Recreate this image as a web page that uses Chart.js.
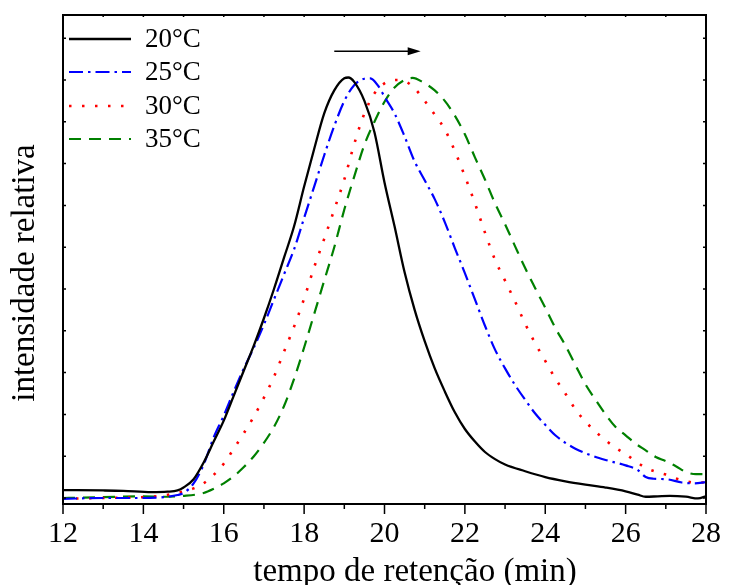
<!DOCTYPE html>
<html>
<head>
<meta charset="utf-8">
<script src="https://cdn.jsdelivr.net/npm/chart.js@4/dist/chart.umd.min.js"></script>
<style>
  html, body { margin: 0; padding: 0; background: #fff; }
  #wrap { width: 733px; height: 585px; position: relative; }
</style>
</head>
<body>
<div id="wrap"><canvas id="chart"></canvas></div>
<script>
// Retention-time axis ticks (minutes)
const xTicks = [12, 14, 16, 18, 20, 22, 24, 26, 28];

// Series labels
const seriesLabels = ['20°C', '25°C', '30°C', '35°C'];

// 20 °C
const time20 = [12.0, 13.0, 13.5, 14.2, 14.6, 14.85, 15.0, 15.25, 15.5, 15.75, 16.0, 16.25, 16.5, 16.75, 17.0, 17.25, 17.5, 17.75, 18.0, 18.25, 18.5, 18.75, 19.0, 19.1, 19.25, 19.5, 19.75, 20.0, 20.25, 20.5, 20.75, 21.0, 21.25, 21.5, 21.75, 22.0, 22.25, 22.5, 22.75, 23.0, 23.5, 24.0, 24.5, 25.0, 25.5, 26.0, 26.3, 26.5, 26.8, 27.1, 27.5, 27.8, 28.0];
const signal20 = [0.19, 0.18, 0.17, 0.14, 0.15, 0.18, 0.25, 0.45, 0.85, 1.35, 1.85, 2.45, 3.05, 3.65, 4.3, 5.0, 5.75, 6.5, 7.45, 8.35, 9.2, 9.75, 10.04, 10.06, 9.95, 9.5, 8.75, 7.55, 6.5, 5.4, 4.5, 3.75, 3.1, 2.55, 2.05, 1.65, 1.35, 1.1, 0.93, 0.8, 0.64, 0.5, 0.4, 0.32, 0.25, 0.16, 0.08, 0.03, 0.04, 0.05, 0.03, -0.01, 0.04];

// 25 °C
const time25 = [12.0, 13.0, 14.0, 14.5, 14.85, 15.0, 15.25, 15.5, 15.75, 16.0, 16.25, 16.5, 16.75, 17.0, 17.25, 17.5, 17.75, 18.0, 18.25, 18.5, 18.75, 19.0, 19.25, 19.5, 19.65, 19.85, 20.0, 20.25, 20.5, 20.75, 21.0, 21.25, 21.5, 21.75, 22.0, 22.25, 22.5, 22.75, 23.0, 23.25, 23.5, 23.75, 24.0, 24.25, 24.5, 24.75, 25.0, 25.5, 26.0, 26.3, 26.5, 26.7, 27.0, 27.4, 27.7, 28.0];
const signal25 = [-0.02, 0.0, 0.0, 0.02, 0.07, 0.12, 0.35, 0.8, 1.45, 1.97, 2.55, 3.1, 3.6, 4.15, 4.75, 5.35, 5.95, 6.7, 7.45, 8.2, 8.9, 9.5, 9.88, 10.03, 10.04, 9.85, 9.6, 9.2, 8.65, 8.05, 7.6, 7.15, 6.6, 5.98, 5.38, 4.75, 4.12, 3.55, 3.1, 2.7, 2.35, 2.02, 1.75, 1.5, 1.32, 1.18, 1.07, 0.91, 0.78, 0.67, 0.5, 0.46, 0.45, 0.37, 0.35, 0.38];

// 30 °C
const time30 = [12.0, 13.0, 14.0, 14.5, 15.0, 15.25, 15.5, 15.75, 16.0, 16.25, 16.5, 16.75, 17.0, 17.25, 17.5, 17.75, 18.0, 18.25, 18.5, 18.75, 19.0, 19.25, 19.5, 19.75, 20.0, 20.3, 20.55, 20.75, 21.0, 21.25, 21.5, 21.75, 22.0, 22.25, 22.5, 22.75, 23.0, 23.25, 23.5, 23.75, 24.0, 24.25, 24.5, 24.75, 25.0, 25.25, 25.5, 25.75, 26.0, 26.25, 26.5, 26.75, 27.0, 27.25, 27.5, 27.75, 28.0];
const signal30 = [-0.02, 0.0, 0.02, 0.06, 0.16, 0.23, 0.35, 0.55, 0.82, 1.18, 1.55, 1.95, 2.4, 2.9, 3.5, 4.1, 4.77, 5.52, 6.2, 6.9, 7.62, 8.48, 9.2, 9.68, 9.92, 10.0, 9.95, 9.8, 9.5, 9.17, 8.82, 8.3, 7.7, 7.05, 6.35, 5.7, 5.2, 4.7, 4.17, 3.7, 3.28, 2.86, 2.5, 2.12, 1.83, 1.59, 1.38, 1.2, 1.05, 0.88, 0.72, 0.63, 0.56, 0.47, 0.4, 0.36, 0.38];

// 35 °C
const time35 = [12.0, 13.0, 14.0, 14.5, 15.0, 15.5, 15.75, 16.0, 16.25, 16.5, 16.75, 17.0, 17.25, 17.5, 17.75, 18.0, 18.25, 18.5, 18.75, 19.0, 19.25, 19.5, 19.75, 20.0, 20.25, 20.5, 20.7, 20.95, 21.25, 21.5, 21.75, 22.0, 22.25, 22.5, 22.75, 23.0, 23.25, 23.5, 23.75, 24.0, 24.25, 24.5, 24.75, 25.0, 25.25, 25.5, 25.75, 26.0, 26.25, 26.5, 26.75, 27.0, 27.25, 27.5, 27.75, 28.0];
const signal35 = [0.0, 0.02, 0.04, 0.03, 0.05, 0.12, 0.22, 0.35, 0.52, 0.74, 1.0, 1.32, 1.7, 2.2, 2.85, 3.6, 4.4, 5.2, 6.0, 6.9, 7.7, 8.45, 9.0, 9.48, 9.82, 10.0, 10.05, 9.95, 9.75, 9.5, 9.15, 8.7, 8.15, 7.62, 7.05, 6.55, 6.02, 5.5, 5.02, 4.55, 4.07, 3.65, 3.18, 2.72, 2.35, 2.0, 1.7, 1.5, 1.3, 1.14, 0.98, 0.88, 0.76, 0.62, 0.57, 0.57];

const serif = "'Liberation Serif', 'Times New Roman', serif";

function points(xs, ys) {
  return xs.map((t, i) => ({ x: t, y: ys[i] }));
}

function series(label, xs, ys, color, dash, width) {
  return {
    label: label,
    data: points(xs, ys),
    borderColor: color,
    backgroundColor: color,
    borderWidth: width,
    borderDash: dash,
    borderCapStyle: 'butt',
    pointRadius: 0,
    pointHoverRadius: 0,
    fill: false,
    cubicInterpolationMode: 'monotone'
  };
}

// Frame, tick marks, axis titles, shift arrow and the in-plot legend
const decorations = {
  id: 'decorations',
  afterDraw(chart) {
    const { ctx, chartArea: a, scales: { x, y } } = chart;
    ctx.save();
    ctx.strokeStyle = '#000';
    ctx.lineWidth = 2;
    ctx.strokeRect(a.left, a.top, a.right - a.left, a.bottom - a.top);

    ctx.lineWidth = 1.5;
    ctx.beginPath();
    for (let v = x.min; v <= x.max; v++) {
      const px = x.getPixelForValue(v);
      const major = v % 2 === 0;
      ctx.moveTo(px, a.bottom);
      ctx.lineTo(px, a.bottom + (major ? 10 : 5));
      ctx.moveTo(px, a.top);
      ctx.lineTo(px, a.top + 2);
    }
    for (let v = 0; v <= Math.floor(y.max); v++) {
      const py = y.getPixelForValue(v);
      ctx.moveTo(a.left, py);
      ctx.lineTo(a.left + 3, py);
      ctx.moveTo(a.right, py);
      ctx.lineTo(a.right - 3, py);
    }
    ctx.stroke();

    // axis titles
    ctx.fillStyle = '#000';
    ctx.font = '33px ' + serif;
    ctx.textAlign = 'center';
    ctx.textBaseline = 'alphabetic';
    ctx.fillText('tempo de retenção (min)', a.left + 352, 581);
    ctx.save();
    ctx.translate(34, a.top + 258);
    ctx.rotate(-Math.PI / 2);
    ctx.fillText('intensidade relativa', 0, 0);
    ctx.restore();

    // arrow showing the peak shift with temperature
    const ax0 = x.getPixelForValue(18.75);
    const ax1 = x.getPixelForValue(20.9);
    const ay = y.getPixelForValue(10.69);
    ctx.lineWidth = 1.5;
    ctx.beginPath();
    ctx.moveTo(ax0, ay);
    ctx.lineTo(ax1 - 10, ay);
    ctx.stroke();
    ctx.beginPath();
    ctx.moveTo(ax1, ay);
    ctx.lineTo(ax1 - 13, ay - 4);
    ctx.lineTo(ax1 - 13, ay + 4);
    ctx.closePath();
    ctx.fill();

    // legend
    const rowY = [39, 72, 106, 139];
    ctx.font = '27px ' + serif;
    ctx.textBaseline = 'middle';
    ctx.textAlign = 'left';
    chart.data.datasets.forEach((ds, i) => {
      const ly = rowY[i];
      ctx.save();
      ctx.strokeStyle = ds.borderColor;
      ctx.lineWidth = ds.borderWidth;
      ctx.setLineDash(ds.borderDash || []);
      ctx.beginPath();
      ctx.moveTo(a.left + 6, ly);
      ctx.lineTo(a.left + 68, ly);
      ctx.stroke();
      ctx.restore();
      ctx.fillText(ds.label, a.left + 82, ly + 1);
    });
    ctx.restore();
  }
};

new Chart(document.getElementById('chart'), {
  type: 'line',
  data: {
    datasets: [
      series(seriesLabels[0], time20, signal20, '#000000', [], 2.3),
      series(seriesLabels[1], time25, signal25, '#0000ff', [14, 5, 2.5, 5], 2.2),
      series(seriesLabels[2], time30, signal30, '#ff0000', [2.5, 10.5], 2.6),
      series(seriesLabels[3], time35, signal35, '#008000', [12, 8], 2.2)
    ]
  },
  options: {
    responsive: true,
    maintainAspectRatio: false,
    animation: false,
    events: [],
    layout: { padding: { top: 15, right: 18, left: 0, bottom: 0 } },
    plugins: {
      legend: { display: false },
      tooltip: { enabled: false }
    },
    scales: {
      x: {
        type: 'linear',
        min: 12,
        max: 28,
        afterFit(scale) { scale.height = 81; },
        afterBuildTicks(scale) { scale.ticks = xTicks.map(v => ({ value: v })); },
        grid: { display: false, drawTicks: false },
        border: { display: false },
        ticks: {
          padding: 12,
          color: '#000',
          maxRotation: 0,
          autoSkip: false,
          font: { family: serif, size: 30 }
        },
        title: { display: false }
      },
      y: {
        type: 'linear',
        min: -0.144,
        max: 11.555,
        afterFit(scale) { scale.width = 63; },
        grid: { display: false, drawTicks: false },
        border: { display: false },
        ticks: { display: false, stepSize: 1 },
        title: { display: false }
      }
    }
  },
  plugins: [decorations]
});
</script>
</body>
</html>
